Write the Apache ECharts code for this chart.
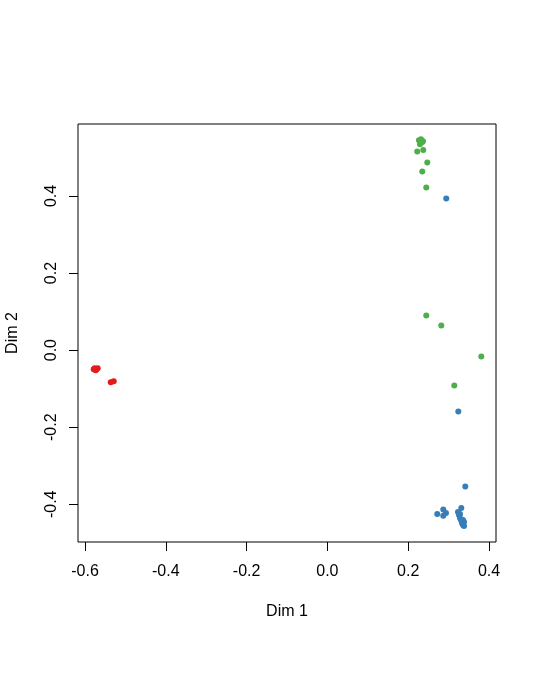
<!DOCTYPE html>
<html>
<head>
<meta charset="utf-8">
<script src="https://cdn.jsdelivr.net/npm/echarts@6/dist/echarts.min.js"></script>
<style>
html,body{margin:0;padding:0;background:#fff;}
#c{width:537px;height:686px;}
</style>
</head>
<body>
<div id="c"></div>
<script>
// Data (Dim 1, Dim 2) per group
const redPoints = [
  [-0.5760, -0.0467], [-0.5710, -0.0493], [-0.5735, -0.0519], [-0.5784, -0.0493],
  [-0.5685, -0.0467], [-0.5363, -0.0830], [-0.5288, -0.0804]
];
const bluePoints = [
  [0.2942, 0.3935], [0.3240, -0.1590], [0.3413, -0.3536], [0.2719, -0.4254],
  [0.2868, -0.4132], [0.2868, -0.4298], [0.2935, -0.4228], [0.3314, -0.4099],
  [0.3232, -0.4202], [0.3257, -0.4280], [0.3282, -0.4358], [0.3306, -0.4410],
  [0.3331, -0.4488], [0.3356, -0.4540], [0.3381, -0.4565], [0.3381, -0.4462],
  [0.3356, -0.4410], [0.3282, -0.4254]
];
const greenPoints = [
  [0.2266, 0.5447], [0.2316, 0.5473], [0.2341, 0.5396], [0.2291, 0.5344],
  [0.2366, 0.5422], [0.2224, 0.5154], [0.2373, 0.5196], [0.2472, 0.4869],
  [0.2348, 0.4636], [0.2447, 0.4221], [0.2447, 0.0900], [0.2819, 0.0641],
  [0.3809, -0.0163], [0.3141, -0.0916]
];
const xTicks = [-0.6, -0.4, -0.2, 0.0, 0.2, 0.4];
const yTicks = [-0.4, -0.2, 0.0, 0.2, 0.4];
const xRange = [-0.6173, 0.4173];
const yRange = [-0.4978, 0.5868];

const chart = echarts.init(document.getElementById('c'), null, {renderer: 'canvas'});
const font = 'Liberation Sans, Arial, sans-serif';
const fmt = v => Number(v).toFixed(1);
chart.setOption({
  animation: false,
  backgroundColor: '#ffffff',
  grid: {left: 78, right: 41, top: 124, bottom: 144, show: true, borderColor: '#000', borderWidth: 1,
         containLabel: false, outerBoundsMode: 'none'},
  xAxis: {
    type: 'value', min: xRange[0], max: xRange[1],
    name: 'Dim 1', nameLocation: 'middle', nameGap: 62,
    nameTextStyle: {fontFamily: font, fontSize: 16, color: '#000'},
    axisLine: {show: false, onZero: false},
    splitLine: {show: false},
    axisTick: {show: true, customValues: xTicks, length: 9, lineStyle: {color: '#000'}},
    axisLabel: {customValues: xTicks, formatter: fmt, margin: 22, fontFamily: font, fontSize: 16, color: '#000'}
  },
  yAxis: {
    type: 'value', min: yRange[0], max: yRange[1],
    name: 'Dim 2', nameLocation: 'middle', nameGap: 57, nameRotate: 90,
    nameTextStyle: {fontFamily: font, fontSize: 16, color: '#000'},
    axisLine: {show: false, onZero: false},
    splitLine: {show: false},
    axisTick: {show: true, customValues: yTicks, length: 9, lineStyle: {color: '#000'}},
    axisLabel: {customValues: yTicks, formatter: fmt, rotate: 90, margin: 18, fontFamily: font, fontSize: 16, color: '#000'}
  },
  series: [
    {type: 'scatter', data: redPoints, symbolSize: 6, itemStyle: {color: '#E41A1C', opacity: 1}},
    {type: 'scatter', data: bluePoints, symbolSize: 6, itemStyle: {color: '#377EB8', opacity: 1}},
    {type: 'scatter', data: greenPoints, symbolSize: 6, itemStyle: {color: '#4DAF4A', opacity: 1}}
  ]
});
</script>
</body>
</html>
